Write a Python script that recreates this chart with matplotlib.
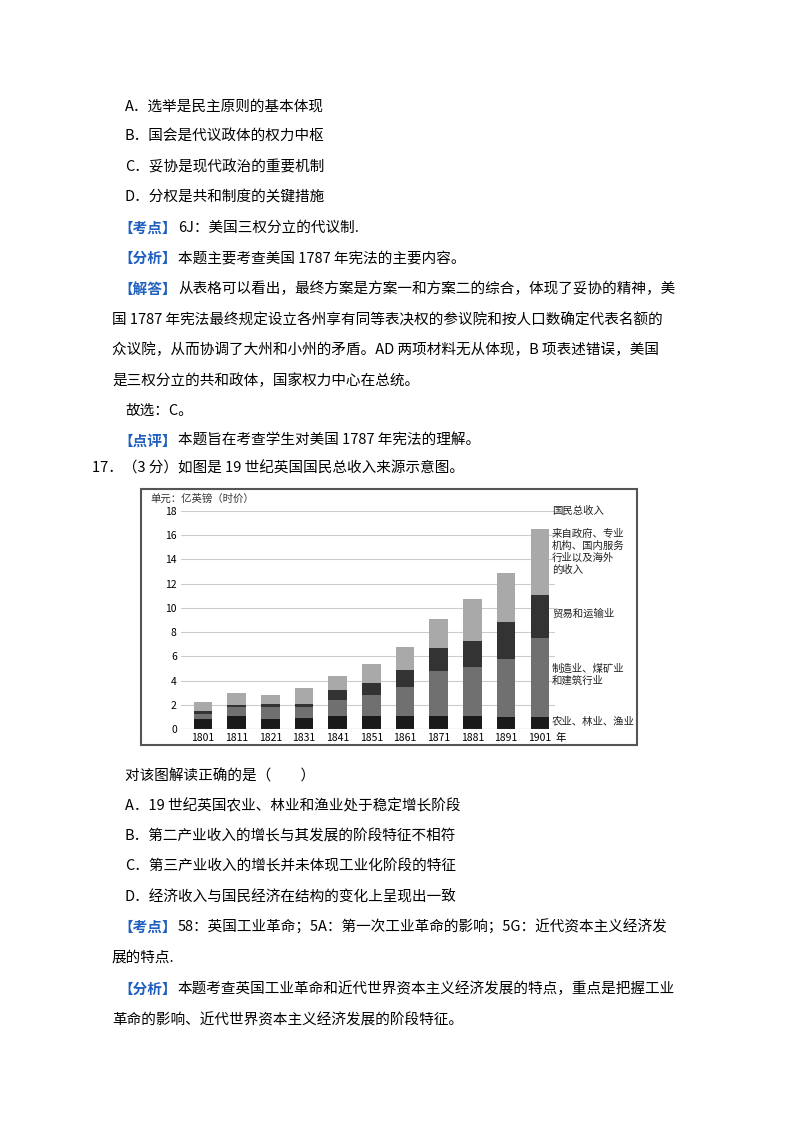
import matplotlib.pyplot as plt
import matplotlib.patches as mpatches
import numpy as np

plt.rcParams['font.family'] = ['Noto Sans CJK SC', 'DejaVu Sans']

W, H = 800, 1132
BLUE = "#1f5fbf"

years = ["1801", "1811", "1821", "1831", "1841", "1851", "1861", "1871", "1881", "1891", "1901"]
# cumulative tops (亿英镑)
agri_top = [0.8, 1.1, 0.8, 0.9, 1.1, 1.1, 1.1, 1.1, 1.1, 1.0, 1.0]
manu_top = [1.2, 1.8, 1.8, 1.8, 2.4, 2.8, 3.5, 4.8, 5.1, 5.8, 7.5]
trade_top = [1.5, 2.0, 2.1, 2.1, 3.2, 3.8, 4.9, 6.7, 7.3, 8.8, 11.1]
total = [2.2, 3.0, 2.8, 3.4, 4.4, 5.4, 6.8, 9.1, 10.7, 12.9, 16.5]

# document lines: (y px, x px, bracket label or None, text)
lines_top = [
    (107, 125, None, "A．选举是民主原则的基本体现"),
    (137, 125, None, "B．国会是代议政体的权力中枢"),
    (167, 125, None, "C．妥协是现代政治的重要机制"),
    (197, 125, None, "D．分权是共和制度的关键措施"),
    (228, 118, "【考点】", "6J：美国三权分立的代议制."),
    (258, 118, "【分析】", "本题主要考查美国 1787 年宪法的主要内容。"),
    (289, 118, "【解答】", "从表格可以看出，最终方案是方案一和方案二的综合，体现了妥协的精神，美"),
    (320, 112, None, "国 1787 年宪法最终规定设立各州享有同等表决权的参议院和按人口数确定代表名额的"),
    (350, 112, None, "众议院，从而协调了大州和小州的矛盾。AD 两项材料无从体现，B 项表述错误，美国"),
    (381, 112, None, "是三权分立的共和政体，国家权力中心在总统。"),
    (411, 125, None, "故选：C。"),
    (441, 118, "【点评】", "本题旨在考查学生对美国 1787 年宪法的理解。"),
    (468, 92, None, "17．（3 分）如图是 19 世纪英国国民总收入来源示意图。"),
    (776, 125, None, "对该图解读正确的是（　　）"),
    (806, 125, None, "A．19 世纪英国农业、林业和渔业处于稳定增长阶段"),
    (836, 125, None, "B．第二产业收入的增长与其发展的阶段特征不相符"),
    (866, 125, None, "C．第三产业收入的增长并未体现工业化阶段的特征"),
    (897, 125, None, "D．经济收入与国民经济在结构的变化上呈现出一致"),
    (927, 118, "【考点】", "58：英国工业革命；5A：第一次工业革命的影响；5G：近代资本主义经济发"),
    (958, 112, None, "展的特点."),
    (989, 118, "【分析】", "本题考查英国工业革命和近代世界资本主义经济发展的特点，重点是把握工业"),
    (1020, 112, None, "革命的影响、近代世界资本主义经济发展的阶段特征。"),
]

fig = plt.figure(figsize=(W / 100, H / 100), dpi=100)


def fx(x):
    return x / W


def fy(y):
    return 1 - y / H


for y, x, tag, text in lines_top:
    if tag:
        fig.text(fx(x), fy(y), tag, color=BLUE, fontsize=10.5, va="center", fontweight="bold")
        fig.text(fx(x + 60), fy(y), text, color="black", fontsize=10.5, va="center")
    else:
        fig.text(fx(x), fy(y), text, color="black", fontsize=10.5, va="center")

# chart frame
frame = mpatches.Rectangle((fx(141), fy(745)), fx(637 - 141), (745 - 489) / H,
                           transform=fig.transFigure, fill=False, edgecolor="#555555", lw=1.5)
fig.patches.append(frame)

# chart axes: y 0 at px 729, 18 at px 511
ax = fig.add_axes([fx(181), fy(729), fx(555 - 181), (729 - 511) / H])
x = np.arange(len(years))
agri = np.array(agri_top)
manu = np.array(manu_top) - agri
trade = np.array(trade_top) - np.array(manu_top)
serv = np.array(total) - np.array(trade_top)
bw = 0.55
ax.bar(x, agri, bw, color="#1a1a1a")
ax.bar(x, manu, bw, bottom=agri, color="#707070")
ax.bar(x, trade, bw, bottom=np.array(manu_top), color="#333333")
ax.bar(x, serv, bw, bottom=np.array(trade_top), color="#a9a9a9")
ax.set_xlim(-0.65, 10.45)
ax.set_ylim(0, 18)
ax.set_yticks(range(0, 19, 2))
ax.yaxis.grid(True, color="#cccccc", lw=0.8)
ax.set_axisbelow(True)
ax.set_xticks(x)
ax.set_xticklabels(years)
ax.tick_params(length=0, labelsize=7.5, pad=3)
for s in ax.spines.values():
    s.set_visible(False)
ax.axhline(0, color="#888888", lw=0.8)

fig.text(fx(150), fy(499), "单元：亿英镑（时价）", fontsize=7.5, va="center", color="#333333")
fig.text(fx(555), fy(738), "年", fontsize=7.5, va="center")
legend_items = [
    (511, "国民总收入"),
    (552, "来自政府、专业\n机构、国内服务\n行业以及海外\n的收入"),
    (614, "贸易和运输业"),
    (675, "制造业、煤矿业\n和建筑行业"),
    (722, "农业、林业、渔业"),
]
for y, t in legend_items:
    fig.text(fx(552), fy(y), t, fontsize=7.5, va="center", linespacing=1.2, color="#222222")

fig.savefig("out.png", dpi=100)
